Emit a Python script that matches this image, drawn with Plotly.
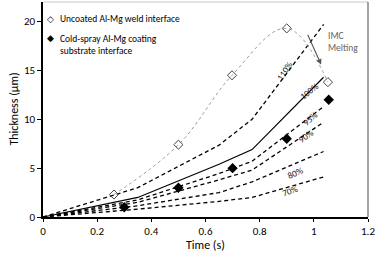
import plotly.graph_objects as go

# ---- data ----
uncoated_x = [0.262, 0.5, 0.698, 0.9, 1.052]
uncoated_y = [2.3, 7.4, 14.5, 19.3, 13.8]

coated_x = [0.3, 0.5, 0.7, 0.9, 1.055]
coated_y = [1.0, 3.0, 5.0, 8.0, 12.0]

model_x = [0, 0.35, 0.65, 0.772, 1.036]
model_110 = [0, 3.0, 7.35, 10.0, 19.7]
model_100 = [0, 2.0, 5.4, 6.9, 14.3]
model_95 = [0, 1.75, 4.45, 5.7, 11.3]
model_90 = [0, 1.5, 3.8, 4.8, 9.7]
model_80 = [0, 1.15, 2.5, 3.6, 6.7]
model_70 = [0, 0.8, 1.6, 2.0, 4.1]

label_names = ["110%", "100%", "95%", "90%", "80%", "70%"]
label_x = [0.892, 0.985, 0.985, 0.972, 0.932, 0.913]
label_y = [15.0, 12.9, 10.1, 8.3, 4.6, 2.7]
label_angle = [-57, -38, -42, -35, -24, -20]

x_ticks = [0, 0.2, 0.4, 0.6, 0.8, 1.0, 1.2]
x_tick_text = ["0", "0.2", "0.4", "0.6", "0.8", "1", "1.2"]
y_ticks = [0, 5, 10, 15, 20]

FONT = "Carlito, Lato, 'Liberation Sans', sans-serif"

fig = go.Figure()

models = [model_110, model_100, model_95, model_90, model_80, model_70]
for name, ys in zip(label_names, models):
    fig.add_trace(go.Scatter(
        x=model_x, y=ys, mode="lines", showlegend=False,
        line=dict(color="black", width=1.3 if name != "100%" else 1.2,
                  dash="solid" if name == "100%" else "4px,3px"),
        hoverinfo="skip"))

fig.add_trace(go.Scatter(
    x=uncoated_x, y=uncoated_y, mode="lines", showlegend=False,
    line=dict(color="#9a9a9a", width=1, dash="dot", shape="spline", smoothing=1.1)))
fig.add_trace(go.Scatter(
    x=uncoated_x, y=uncoated_y, mode="markers", showlegend=False,
    marker=dict(symbol="diamond-open", size=7, color="#444",
                line=dict(width=1, color="#444"))))
fig.add_trace(go.Scatter(
    x=coated_x, y=coated_y, mode="markers", showlegend=False,
    marker=dict(symbol="diamond", size=8, color="black")))

ann = []
for t, lx, ly, a in zip(label_names, label_x, label_y, label_angle):
    ann.append(dict(x=lx, y=ly, xref="x", yref="y", text=t, showarrow=False,
                    textangle=a, font=dict(size=9, color="#111", family=FONT)))

# legend (drawn as text)
ann.append(dict(x=0.026, y=20.3, xref="x", yref="y", text="◇", showarrow=False,
                font=dict(size=9, color="black", family="DejaVu Sans")))
ann.append(dict(x=0.026, y=18.3, xref="x", yref="y", text="◆", showarrow=False,
                font=dict(size=9, color="black", family="DejaVu Sans")))
ann.append(dict(x=0.055, y=20.3, xref="x", yref="y", text="Uncoated Al-Mg weld interface",
                showarrow=False, xanchor="left", font=dict(size=9.5, color="black", family=FONT)))
ann.append(dict(x=0.055, y=17.6, xref="x", yref="y",
                text="Cold-spray Al-Mg coating<br>substrate interface", align="left",
                showarrow=False, xanchor="left", font=dict(size=9.5, color="black", family=FONT)))

# IMC melting
ann.append(dict(x=1.044, y=17.9, xref="x", yref="y", text="IMC<br>Melting", align="left",
                showarrow=False, xanchor="left", font=dict(size=9.5, color="#666", family=FONT)))
ann.append(dict(x=1.027, y=15.6, ax=0.975, ay=18.8, xref="x", yref="y", axref="x", ayref="y",
                text="", showarrow=True, arrowhead=2, arrowsize=1, arrowwidth=1.1,
                arrowcolor="#555"))

# axis titles
ann.append(dict(x=0.5, y=-0.13, xref="paper", yref="paper", text="Time (s)",
                showarrow=False, yanchor="middle", font=dict(size=12, family=FONT)))
ann.append(dict(x=-0.092, y=0.5, xref="paper", yref="paper", text="Thickness (μm)",
                showarrow=False, textangle=-90, xanchor="center", yanchor="middle",
                font=dict(size=12, family=FONT)))

fig.update_layout(
    width=377, height=257,
    margin=dict(l=43, r=9, t=2, b=40),
    paper_bgcolor="white", plot_bgcolor="white",
    font=dict(family=FONT, size=11, color="black"),
    annotations=ann,
    shapes=[
        dict(type="line", xref="paper", yref="paper", x0=0, x1=1, y0=1, y1=1,
             line=dict(color="#c8c8c8", width=1)),
        dict(type="line", xref="paper", yref="paper", x0=1, x1=1, y0=0, y1=1,
             line=dict(color="#666", width=1.2)),
    ],
)
fig.update_xaxes(range=[0, 1.2], tickvals=x_ticks, ticktext=x_tick_text, automargin=False,
                 showgrid=False, zeroline=False, showline=True, linecolor="black",
                 linewidth=1.5, ticks="outside", ticklen=3, tickcolor="black",
                 tickfont=dict(size=11))
fig.update_yaxes(range=[0, 22], tickvals=y_ticks, automargin=False,
                 showgrid=False, zeroline=False, showline=True, linecolor="black",
                 linewidth=1.5, ticks="outside", ticklen=4, tickcolor="black",
                 tickfont=dict(size=11))

fig.write_html("out.html", config={"displayModeBar": False},
               post_script="document.body.style.margin='0';document.body.style.overflow='hidden';")
